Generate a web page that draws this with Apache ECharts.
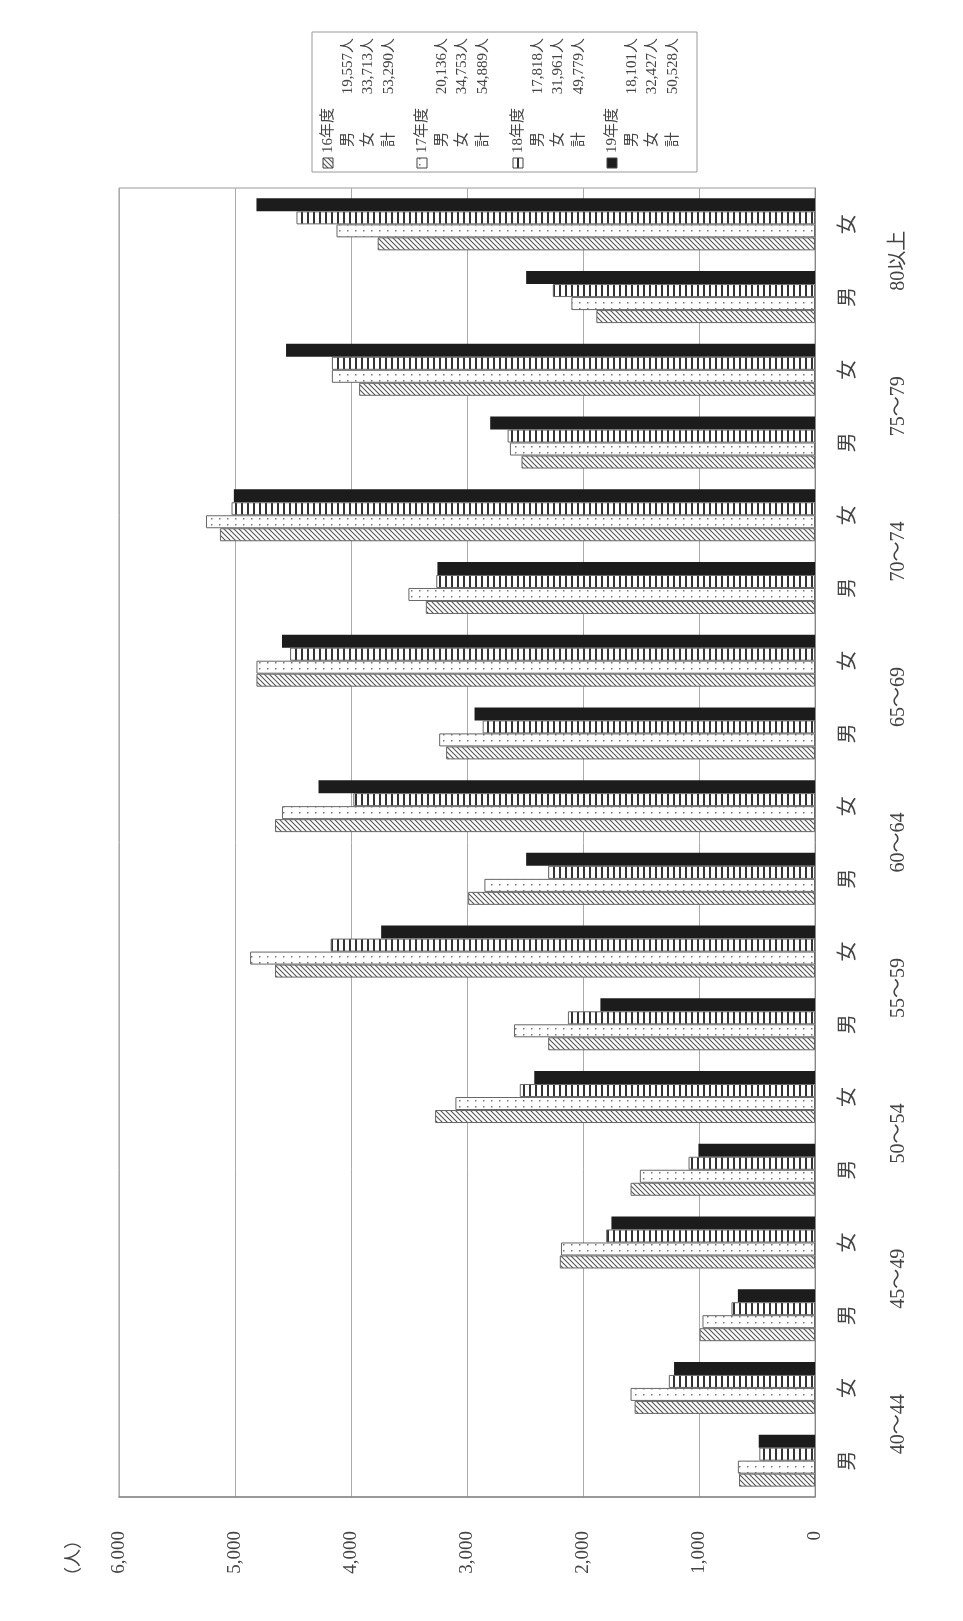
<!DOCTYPE html>
<html><head><meta charset="utf-8">
<script src="https://cdn.jsdelivr.net/npm/echarts@6.0.0/dist/echarts.min.js"></script>
<style>html,body{margin:0;padding:0;background:#fff}#c{width:963px;height:1621px}</style>
</head><body><div id="c"></div>
<script>
// ---- data ----
const ageGroups = ['40〜44','45〜49','50〜54','55〜59','60〜64','65〜69','70〜74','75〜79','80以上'];
const sexes = ['男','女'];
const years = ['16年度','17年度','18年度','19年度'];
// values ordered: 40〜44 男, 40〜44 女, 45〜49 男, ...
const fy16 = [655,1555, 995,2200, 1590,3275, 2300,4655, 2990,4655, 3180,4815, 3355,5130, 2530,3930, 1885,3770];
const fy17 = [665,1590, 970,2190, 1510,3100, 2595,4870, 2850,4595, 3240,4815, 3505,5250, 2630,4165, 2100,4125];
const fy18 = [480,1260, 720,1800, 1090,2545, 2130,4175, 2300,3980, 2865,4525, 3265,5030, 2650,4165, 2260,4470];
const fy19 = [485,1215, 665,1755, 1005,2420, 1850,3740, 2490,4280, 2935,4595, 3255,5010, 2800,4560, 2490,4815];
const legendMale   = [19557, 20136, 17818, 18101];
const legendFemale = [33713, 34753, 31961, 32427];
const legendTotal  = [53290, 54889, 49779, 50528];
const rowLabels = ['男','女','計'];
const unitLabel = '（人）';

// ---- patterns ----
function makeCanvas(w, h, draw) {
  const c = document.createElement('canvas'); c.width = w; c.height = h;
  const g = c.getContext('2d'); draw(g); return c;
}
const hatch = makeCanvas(5, 5, g => {
  g.fillStyle = '#fff'; g.fillRect(0, 0, 5, 5);
  g.strokeStyle = '#555'; g.lineWidth = 1.1;
  g.beginPath();
  g.moveTo(-1, -1); g.lineTo(6, 6);
  g.moveTo(-1, 4); g.lineTo(1, 6);
  g.moveTo(4, -1); g.lineTo(6, 1);
  g.stroke();
});
const dots = makeCanvas(8, 6, g => {
  g.fillStyle = '#fff'; g.fillRect(0, 0, 8, 6);
  g.fillStyle = '#777'; g.fillRect(3, 2, 1.5, 1.5);
});
const stripes = makeCanvas(6, 4, g => {
  g.fillStyle = '#fff'; g.fillRect(0, 0, 6, 4);
  g.fillStyle = '#333'; g.fillRect(1, 0, 2, 4);
});
const fills = [
  {image: hatch, repeat: 'repeat'},
  {image: dots, repeat: 'repeat'},
  {image: stripes, repeat: 'repeat'},
  '#1c1c1c'
];
const seriesData = [fy16, fy17, fy18, fy19];

const categories = [];
ageGroups.forEach(a => sexes.forEach(s => categories.push(a + ' ' + s)));

const FONT = "'Liberation Serif','Noto Sans CJK JP',serif";
const TXT = '#444';
const fmt = v => v.toLocaleString('en-US');

// ---- legend (graphic, rotated) ----
const legendEls = [{
  type: 'rect', shape: {x: 312, y: 32, width: 385, height: 140},
  style: {fill: '#fff', stroke: '#999', lineWidth: 1}
}];
const colX = [328, 422, 518, 612];
const rowOff = [20, 40.5, 61];
years.forEach((y, i) => {
  const x = colX[i];
  legendEls.push({
    type: 'rect', shape: {x: x - 5, y: 158, width: 10, height: 10},
    style: {fill: fills[i], stroke: '#444', lineWidth: 1}
  });
  legendEls.push({
    type: 'text', x: x, y: 153, rotation: Math.PI / 2,
    style: {text: y, fill: TXT, font: '15px ' + FONT, align: 'left', verticalAlign: 'middle'}
  });
  const vals = [legendMale[i], legendFemale[i], legendTotal[i]];
  rowLabels.forEach((r, j) => {
    legendEls.push({
      type: 'text', x: x + rowOff[j], y: 147, rotation: Math.PI / 2,
      style: {text: r, fill: TXT, font: '15px ' + FONT, align: 'left', verticalAlign: 'middle'}
    });
    legendEls.push({
      type: 'text', x: x + rowOff[j], y: 38, rotation: Math.PI / 2,
      style: {text: fmt(vals[j]) + '人', fill: TXT, font: '15px ' + FONT, align: 'right', verticalAlign: 'middle'}
    });
  });
});
legendEls.push({
  type: 'text', x: 74, y: 1531, rotation: Math.PI / 2,
  style: {text: unitLabel, fill: TXT, font: '18px ' + FONT, align: 'right', verticalAlign: 'middle'}
});

// series drawn top-to-bottom within each category: 19, 18, 17, 16
const order = [3, 2, 1, 0];

const chart = echarts.init(document.getElementById('c'), null, {renderer: 'canvas'});
chart.setOption({
  backgroundColor: '#fff',
  animation: false,
  textStyle: {fontFamily: FONT},
  grid: {left: 119, right: 148, top: 188, bottom: 124, containLabel: false,
         show: true, borderColor: '#999', borderWidth: 1},
  xAxis: {
    type: 'value', inverse: true, min: 0, max: 6000, interval: 1000, position: 'bottom',
    axisLine: {show: true, lineStyle: {color: '#888', width: 1.5}},
    axisTick: {show: false},
    splitLine: {show: true, lineStyle: {color: '#aaa', width: 1}},
    axisLabel: {rotate: 90, margin: 34, fontSize: 19, color: TXT, fontFamily: FONT, formatter: fmt}
  },
  yAxis: [{
    type: 'category', data: categories, position: 'right',
    axisLine: {show: true, lineStyle: {color: '#888'}},
    axisTick: {show: false},
    axisLabel: {rotate: 90, margin: 24, interval: 0, fontSize: 20, color: TXT, fontFamily: FONT,
                formatter: v => v.split(' ')[1]}
  }, {
    type: 'category', data: ageGroups, position: 'right',
    axisLine: {show: false}, axisTick: {show: false},
    axisLabel: {rotate: 90, margin: 74, interval: 0, fontSize: 20, color: TXT, fontFamily: FONT}
  }],
  series: order.map(i => ({
    name: years[i], type: 'bar', yAxisIndex: 0, data: seriesData[i],
    barWidth: 13, barGap: '0%',
    itemStyle: {color: fills[i], borderColor: i === 3 ? '#1c1c1c' : '#666', borderWidth: i === 3 ? 0 : 1}
  })),
  graphic: legendEls
});
</script></body></html>
